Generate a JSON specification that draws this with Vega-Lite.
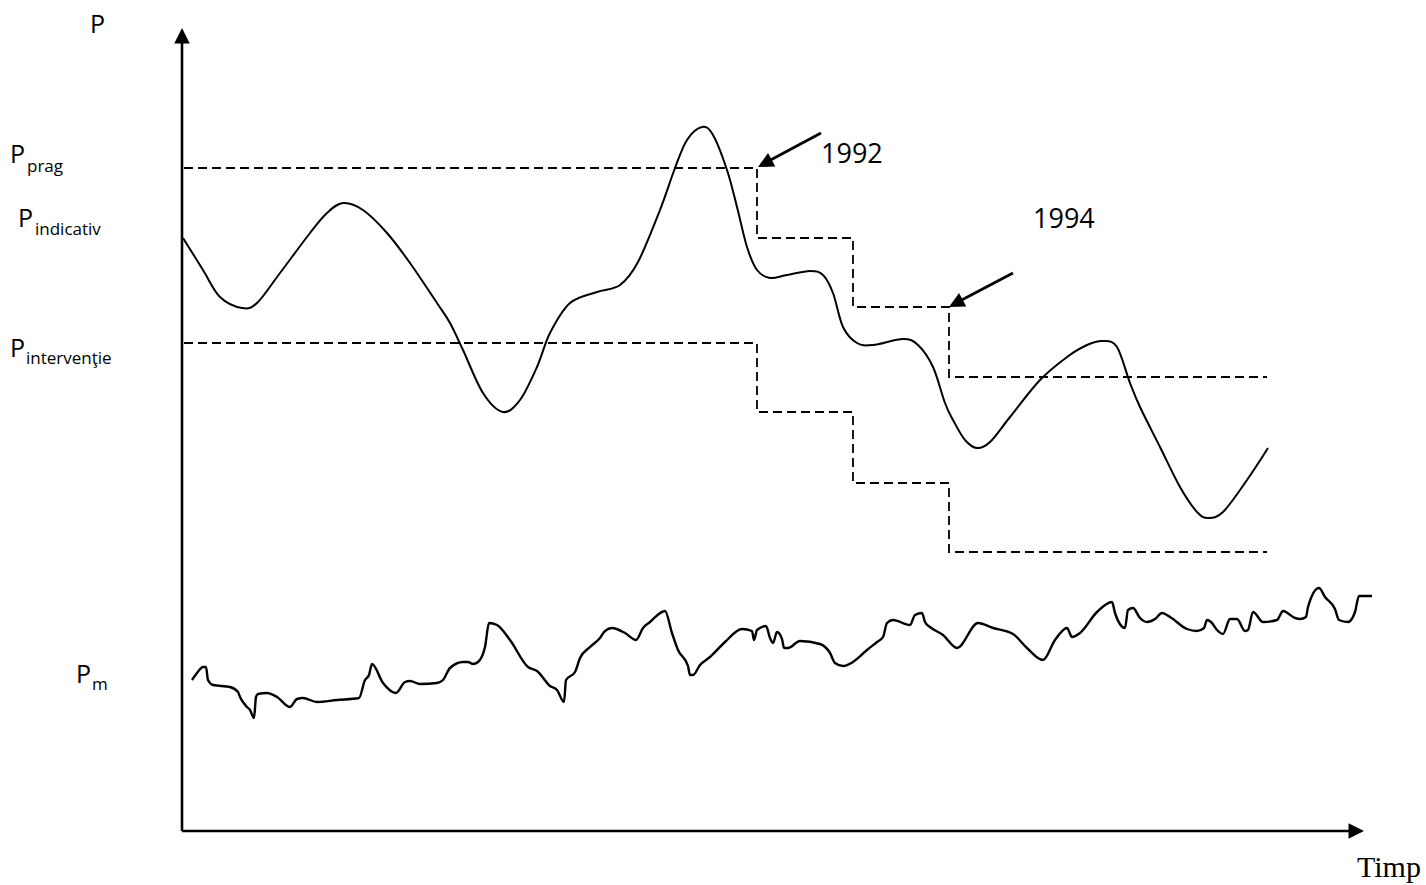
{
  "$schema": "https://vega.github.io/schema/vega-lite/v6.json",
  "width": 1426,
  "height": 885,
  "padding": 0,
  "autosize": {"type": "fit", "contains": "padding"},
  "background": "white",
  "config": {"view": {"stroke": null}},
  "datasets": {
    "curve": [
      {"t":183,"p":647},{"t":203,"p":615},{"t":220,"p":588},{"t":242,"p":577},{"t":257,"p":582},{"t":280,"p":612},{"t":310,"p":652},{"t":327,"p":672},{"t":343,"p":682},{"t":363,"p":675},{"t":387,"p":652},{"t":410,"p":622},{"t":437,"p":582},{"t":450,"p":562},{"t":463,"p":535},{"t":483,"p":492},{"t":503,"p":473},{"t":520,"p":485},{"t":537,"p":518},{"t":550,"p":552},{"t":570,"p":582},{"t":597,"p":593},{"t":620,"p":600},{"t":638,"p":623},{"t":660,"p":675},{"t":675,"p":717},{"t":687,"p":745},{"t":702,"p":758},{"t":713,"p":750},{"t":727,"p":715},{"t":737,"p":678},{"t":747,"p":638},{"t":757,"p":615},{"t":770,"p":607},{"t":787,"p":610},{"t":810,"p":614},{"t":823,"p":610},{"t":833,"p":592},{"t":843,"p":558},{"t":857,"p":542},{"t":873,"p":540},{"t":903,"p":546},{"t":918,"p":540},{"t":933,"p":518},{"t":945,"p":482},{"t":953,"p":465},{"t":965,"p":445},{"t":977,"p":437},{"t":990,"p":443},{"t":1010,"p":468},{"t":1040,"p":505},{"t":1067,"p":528},{"t":1087,"p":540},{"t":1103,"p":544},{"t":1117,"p":538},{"t":1130,"p":502},{"t":1140,"p":478},{"t":1160,"p":438},{"t":1180,"p":398},{"t":1197,"p":373},{"t":1208,"p":367},{"t":1223,"p":373},{"t":1247,"p":405},{"t":1268,"p":437}
    ],
    "pm": [
      {"t":192,"p":205},{"t":197,"p":212},{"t":203,"p":218},{"t":206,"p":218},{"t":208,"p":205},{"t":213,"p":200},{"t":230,"p":198},{"t":238,"p":193},{"t":240,"p":188},{"t":247,"p":178},{"t":250,"p":175},{"t":254,"p":167},{"t":256,"p":188},{"t":258,"p":191},{"t":267,"p":192},{"t":277,"p":188},{"t":290,"p":178},{"t":297,"p":186},{"t":303,"p":187},{"t":317,"p":183},{"t":337,"p":185},{"t":359,"p":187},{"t":365,"p":205},{"t":369,"p":210},{"t":372,"p":221},{"t":383,"p":202},{"t":396,"p":192},{"t":405,"p":203},{"t":410,"p":204},{"t":420,"p":201},{"t":437,"p":202},{"t":443,"p":205},{"t":450,"p":217},{"t":463,"p":223},{"t":468,"p":223},{"t":473,"p":221},{"t":478,"p":223},{"t":485,"p":238},{"t":489,"p":262},{"t":497,"p":260},{"t":510,"p":245},{"t":528,"p":218},{"t":537,"p":214},{"t":550,"p":199},{"t":557,"p":195},{"t":564,"p":183},{"t":566,"p":205},{"t":575,"p":213},{"t":580,"p":227},{"t":590,"p":238},{"t":600,"p":247},{"t":605,"p":254},{"t":612,"p":257},{"t":625,"p":252},{"t":636,"p":245},{"t":643,"p":257},{"t":650,"p":263},{"t":665,"p":274},{"t":672,"p":252},{"t":678,"p":235},{"t":688,"p":219},{"t":690,"p":210},{"t":693,"p":210},{"t":700,"p":220},{"t":710,"p":228},{"t":725,"p":243},{"t":742,"p":256},{"t":752,"p":254},{"t":754,"p":245},{"t":757,"p":255},{"t":766,"p":259},{"t":770,"p":247},{"t":773,"p":242},{"t":777,"p":253},{"t":782,"p":246},{"t":784,"p":237},{"t":788,"p":237},{"t":800,"p":244},{"t":820,"p":241},{"t":830,"p":232},{"t":835,"p":222},{"t":843,"p":219},{"t":853,"p":223},{"t":867,"p":235},{"t":877,"p":243},{"t":883,"p":248},{"t":887,"p":262},{"t":893,"p":265},{"t":910,"p":260},{"t":915,"p":270},{"t":922,"p":272},{"t":925,"p":263},{"t":930,"p":258},{"t":943,"p":250},{"t":957,"p":237},{"t":978,"p":262},{"t":993,"p":257},{"t":1013,"p":251},{"t":1027,"p":237},{"t":1043,"p":225},{"t":1055,"p":245},{"t":1067,"p":257},{"t":1072,"p":248},{"t":1080,"p":252},{"t":1097,"p":273},{"t":1112,"p":283},{"t":1115,"p":272},{"t":1125,"p":257},{"t":1128,"p":275},{"t":1133,"p":277},{"t":1140,"p":267},{"t":1147,"p":263},{"t":1155,"p":266},{"t":1162,"p":272},{"t":1170,"p":268},{"t":1187,"p":256},{"t":1197,"p":254},{"t":1204,"p":257},{"t":1207,"p":265},{"t":1211,"p":263},{"t":1217,"p":255},{"t":1223,"p":251},{"t":1230,"p":266},{"t":1237,"p":266},{"t":1245,"p":254},{"t":1248,"p":255},{"t":1253,"p":273},{"t":1263,"p":263},{"t":1277,"p":265},{"t":1283,"p":274},{"t":1295,"p":267},{"t":1300,"p":266},{"t":1306,"p":268},{"t":1308,"p":278},{"t":1319,"p":297},{"t":1325,"p":288},{"t":1335,"p":276},{"t":1339,"p":265},{"t":1348,"p":263},{"t":1355,"p":273},{"t":1359,"p":289},{"t":1372,"p":289}
    ],
    "steps": [
      {"s":"prag","i":0,"t":184,"p":717},{"s":"prag","i":1,"t":757,"p":717},{"s":"prag","i":2,"t":757,"p":647},{"s":"prag","i":3,"t":853,"p":647},{"s":"prag","i":4,"t":853,"p":578},{"s":"prag","i":5,"t":949,"p":578},{"s":"prag","i":6,"t":949,"p":508},{"s":"prag","i":7,"t":1267,"p":508},
      {"s":"interv","i":0,"t":184,"p":542},{"s":"interv","i":1,"t":757,"p":542},{"s":"interv","i":2,"t":757,"p":473},{"s":"interv","i":3,"t":853,"p":473},{"s":"interv","i":4,"t":853,"p":402},{"s":"interv","i":5,"t":949,"p":402},{"s":"interv","i":6,"t":949,"p":333},{"s":"interv","i":7,"t":1267,"p":333}
    ],
    "axes": [
      {"t":182,"p":54,"t2":182,"p2":845},
      {"t":182,"p":54,"t2":1352,"p2":54}
    ],
    "pointers": [
      {"t":821,"p":752,"t2":765,"p2":722},
      {"t":1013,"p":612,"t2":956,"p2":582}
    ],
    "heads": [
      {"t":182,"p":857,"a":0},
      {"t":1364,"p":54,"a":90},
      {"t":758,"p":718,"a":242},
      {"t":949,"p":578,"a":242}
    ],
    "bigP": [
      {"t":90,"p":852,"txt":"P"},
      {"t":10,"p":722,"txt":"P"},
      {"t":18,"p":658,"txt":"P"},
      {"t":10,"p":528,"txt":"P"},
      {"t":76,"p":202,"txt":"P"}
    ],
    "subs": [
      {"t":27,"p":713,"txt":"prag"},
      {"t":35,"p":650,"txt":"indicativ"},
      {"t":26,"p":521,"txt":"intervenţie"},
      {"t":92,"p":195,"txt":"m"}
    ],
    "years": [
      {"t":821,"p":722,"txt":"1992"},
      {"t":1033,"p":657,"txt":"1994"}
    ],
    "timp": [
      {"t":1357,"p":8,"txt":"Timp"}
    ]
  },
  "encoding": {
    "x": {"field": "t", "type": "quantitative", "scale": {"domain": [0, 1426], "nice": false, "zero": false}, "axis": null},
    "y": {"field": "p", "type": "quantitative", "scale": {"domain": [0, 885], "nice": false, "zero": false}, "axis": null}
  },
  "layer": [
    {
      "data": {"name": "steps"},
      "mark": {"type": "line", "color": "black", "strokeWidth": 1.8, "strokeDash": [9, 5], "interpolate": "linear"},
      "encoding": {"detail": {"field": "s"}, "order": {"field": "i", "type": "quantitative"}}
    },
    {
      "data": {"name": "curve"},
      "mark": {"type": "line", "color": "black", "strokeWidth": 2, "interpolate": "cardinal"},
      "encoding": {}
    },
    {
      "data": {"name": "pm"},
      "mark": {"type": "line", "color": "black", "strokeWidth": 2.4, "interpolate": "monotone"},
      "encoding": {}
    },
    {
      "data": {"name": "axes"},
      "mark": {"type": "rule", "color": "black", "strokeWidth": 2.6},
      "encoding": {"x2": {"field": "t2"}, "y2": {"field": "p2"}}
    },
    {
      "data": {"name": "pointers"},
      "mark": {"type": "rule", "color": "black", "strokeWidth": 2.8},
      "encoding": {"x2": {"field": "t2"}, "y2": {"field": "p2"}}
    },
    {
      "data": {"name": "heads"},
      "mark": {"type": "point", "shape": "M0,0L-0.5,1L0.5,1Z", "filled": true, "color": "black", "opacity": 1, "size": 960, "strokeWidth": 0},
      "encoding": {"angle": {"field": "a", "type": "quantitative", "scale": null}}
    },
    {
      "data": {"name": "bigP"},
      "mark": {"type": "text", "font": "Open Sans", "fontSize": 25, "align": "left", "baseline": "alphabetic", "color": "black"},
      "encoding": {"text": {"field": "txt"}}
    },
    {
      "data": {"name": "subs"},
      "mark": {"type": "text", "font": "Open Sans", "fontSize": 17, "align": "left", "baseline": "alphabetic", "color": "black"},
      "encoding": {"text": {"field": "txt"}}
    },
    {
      "data": {"name": "years"},
      "mark": {"type": "text", "font": "Open Sans", "fontSize": 27, "align": "left", "baseline": "alphabetic", "color": "black"},
      "encoding": {"text": {"field": "txt"}}
    },
    {
      "data": {"name": "timp"},
      "mark": {"type": "text", "font": "Liberation Serif", "fontSize": 30, "align": "left", "baseline": "alphabetic", "color": "black"},
      "encoding": {"text": {"field": "txt"}}
    }
  ]
}
